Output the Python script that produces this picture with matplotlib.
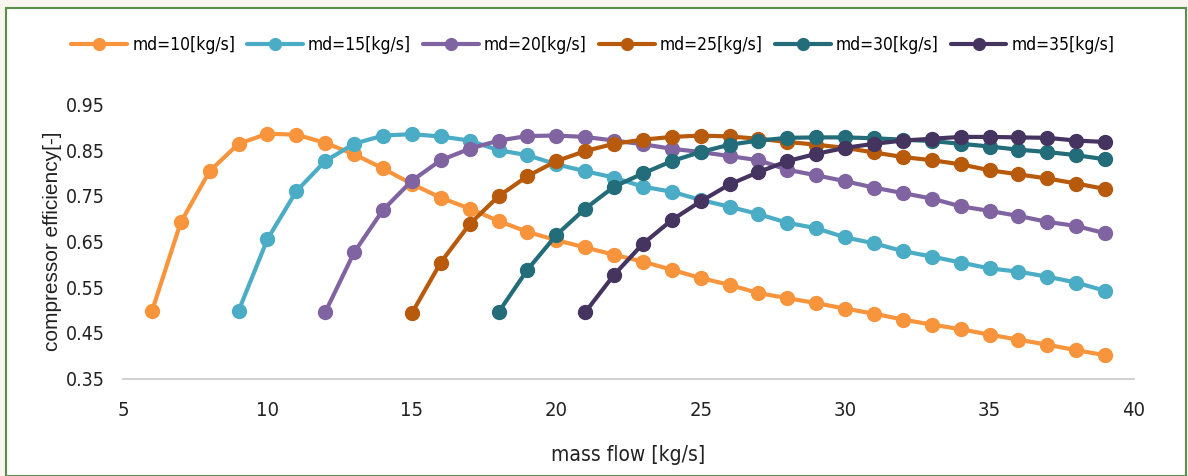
import matplotlib
matplotlib.use("Agg")
import matplotlib.pyplot as plt
from matplotlib import font_manager
from matplotlib.font_manager import FontProperties
from matplotlib.patches import Rectangle

# look for a condensed sans face (the reference text is narrow)
cond = None
for f in font_manager.fontManager.ttflist:
    if "Narrow" in f.name and "Liberation" in f.name and f.weight in (400, "normal") and f.style == "normal":
        cond = f.fname
        break
if cond is None:
    for f in font_manager.fontManager.ttflist:
        if str(f.stretch) in ("condensed", "semi-condensed", "500", "375") and f.style == "normal" \
                and f.weight in (400, "normal") and any(k in f.name for k in ("Sans", "Roboto", "Open", "Lato", "Inter")):
            cond = f.fname
            break

def fp(size, narrow=True):
    if narrow and cond is not None:
        return FontProperties(fname=cond, size=size)
    return FontProperties(family="Liberation Sans", size=size * (0.86 if narrow else 1.0))

labels = ["md=10[kg/s]", "md=15[kg/s]", "md=20[kg/s]", "md=25[kg/s]", "md=30[kg/s]", "md=35[kg/s]"]
colors = ["#F7943C", "#4BACC6", "#8064A2", "#B75A0B", "#236C7A", "#453360"]

x10 = list(range(6, 40))
y10 = [0.497, 0.692, 0.804, 0.864, 0.886, 0.884, 0.866, 0.841, 0.810, 0.776,
       0.746, 0.722, 0.695, 0.671, 0.653, 0.637, 0.621, 0.606, 0.588, 0.570,
       0.555, 0.537, 0.526, 0.515, 0.503, 0.492, 0.479, 0.468, 0.458, 0.446,
       0.435, 0.424, 0.412, 0.401]

x15 = list(range(9, 40))
y15 = [0.498, 0.655, 0.760, 0.826, 0.864, 0.882, 0.885, 0.880, 0.871, 0.850,
       0.839, 0.819, 0.804, 0.790, 0.770, 0.759, 0.741, 0.726, 0.710, 0.691,
       0.679, 0.659, 0.646, 0.629, 0.617, 0.604, 0.591, 0.584, 0.573, 0.560,
       0.542]

x20 = list(range(12, 40))
y20 = [0.495, 0.626, 0.719, 0.783, 0.828, 0.853, 0.871, 0.881, 0.882, 0.879,
       0.871, 0.863, 0.853, 0.846, 0.837, 0.828, 0.807, 0.795, 0.782, 0.768,
       0.756, 0.744, 0.727, 0.717, 0.706, 0.693, 0.684, 0.668]

x25 = list(range(15, 40))
y25 = [0.493, 0.604, 0.688, 0.749, 0.793, 0.826, 0.848, 0.864, 0.873, 0.879,
       0.882, 0.880, 0.875, 0.868, 0.862, 0.855, 0.845, 0.835, 0.828, 0.819,
       0.806, 0.797, 0.788, 0.777, 0.765]

x30 = list(range(18, 40))
y30 = [0.495, 0.588, 0.664, 0.722, 0.770, 0.799, 0.826, 0.846, 0.862, 0.871,
       0.877, 0.878, 0.878, 0.876, 0.873, 0.870, 0.864, 0.858, 0.851, 0.846,
       0.839, 0.830]

x35 = list(range(21, 40))
y35 = [0.495, 0.577, 0.645, 0.697, 0.738, 0.775, 0.802, 0.826, 0.842, 0.855,
       0.864, 0.871, 0.875, 0.879, 0.879, 0.878, 0.877, 0.871, 0.868]

series = [(x10, y10), (x15, y15), (x20, y20), (x25, y25), (x30, y30), (x35, y35)]

xticks = [5, 10, 15, 20, 25, 30, 35, 40]
yticks = [0.35, 0.45, 0.55, 0.65, 0.75, 0.85, 0.95]

W, H = 1188, 476
fig = plt.figure(figsize=(W / 100, H / 100), dpi=100)
fig.patch.set_facecolor("#F8F6EF")
# white panel with green border
fig.patches.append(Rectangle((6 / W, 0), (W - 8) / W, (H - 8) / H, transform=fig.transFigure,
                             facecolor="white", edgecolor="#5A8F4B", linewidth=1.5, zorder=-5))

ax = fig.add_axes([123 / W, 1 - 378.5 / H, (1134 - 123) / W, (378.5 - 104.5) / H])
ax.set_facecolor("none")
ax.set_zorder(2)

for (xs, ys), c, lab in zip(series, colors, labels):
    ax.plot(xs, ys, color=c, lw=3, marker="o", markersize=10, label=lab,
            solid_capstyle="round")

ax.set_xlim(5, 40)
ax.set_ylim(0.35, 0.95)
ax.set_xticks(xticks)
ax.set_yticks(yticks)
ax.set_xticklabels([str(v) for v in xticks], fontproperties=fp(14.5))
ax.set_yticklabels([f"{v:.2f}" for v in yticks], fontproperties=fp(14))
ax.tick_params(axis="both", length=0, colors="#222222")
ax.tick_params(axis="y", pad=13)
ax.tick_params(axis="x", pad=16)
for s in ["top", "right", "left"]:
    ax.spines[s].set_visible(False)
ax.spines["bottom"].set_color("#C8C8C8")
ax.spines["bottom"].set_linewidth(1.2)

ax.set_xlabel("mass flow [kg/s]", fontproperties=fp(15), color="#222222", labelpad=18)
ax.set_ylabel("compressor efficiency[-]", fontproperties=fp(15, narrow=False), color="#222222")
ax.yaxis.set_label_coords(-0.060, 0.5)

leg = fig.legend(loc="center", bbox_to_anchor=(593 / W, 1 - 45 / H), ncol=6, frameon=False,
                 prop=fp(12.5), handlelength=3.2, handletextpad=0.3,
                 columnspacing=0.7, markerscale=0.85)

fig.savefig("out.png", dpi=100, facecolor=fig.get_facecolor())
